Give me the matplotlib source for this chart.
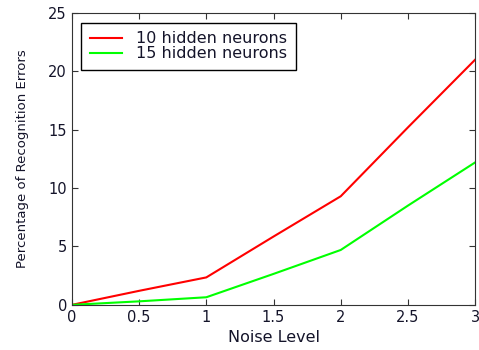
import numpy as np
import matplotlib.pyplot as plt

plt.rcParams['font.family'] = ['DejaVu Sans']
plt.rcParams['text.color'] = '#14142a'
plt.rcParams['axes.labelcolor'] = '#14142a'
plt.rcParams['xtick.labelcolor'] = '#14142a'
plt.rcParams['ytick.labelcolor'] = '#14142a'

noise = [0, 0.5, 1, 1.5, 2, 2.5, 3]
err_10 = [0, 1.2, 2.35, 5.85, 9.3, 15.2, 21.0]
err_15 = [0, 0.3, 0.65, 2.65, 4.7, 8.5, 12.2]

fig = plt.figure(figsize=(4.79, 3.5), dpi=100)
ax = fig.add_axes([0.150, 0.129, 0.842, 0.834])

ax.plot(noise, err_10, color='#ff0000', lw=1.5, label='10 hidden neurons')
ax.plot(noise, err_15, color='#00ff00', lw=1.5, label='15 hidden neurons')

ax.set_xlim(0, 3)
ax.set_ylim(0, 25)
ax.set_xticks(np.arange(0, 3.01, 0.5))
ax.set_xticklabels(['0', '0.5', '1', '1.5', '2', '2.5', '3'])
ax.set_yticks(range(0, 26, 5))
ax.tick_params(direction='in', top=True, right=True, labelsize=10.5,
               length=4, color='#333333')
for s in ax.spines.values():
    s.set_color('#333333')
ax.set_xlabel('Noise Level', fontsize=11.5, labelpad=4)
ax.set_ylabel('Percentage of Recognition Errors', fontsize=9.5, labelpad=14)

leg = ax.legend(loc='upper left', fontsize=11.5, fancybox=False, framealpha=1,
                edgecolor='black', handlelength=2.0, handletextpad=0.85,
                labelspacing=0.0, borderpad=0.55, borderaxespad=0.6)
leg.get_frame().set_linewidth(1)

fig.savefig('out.png', dpi=100)
